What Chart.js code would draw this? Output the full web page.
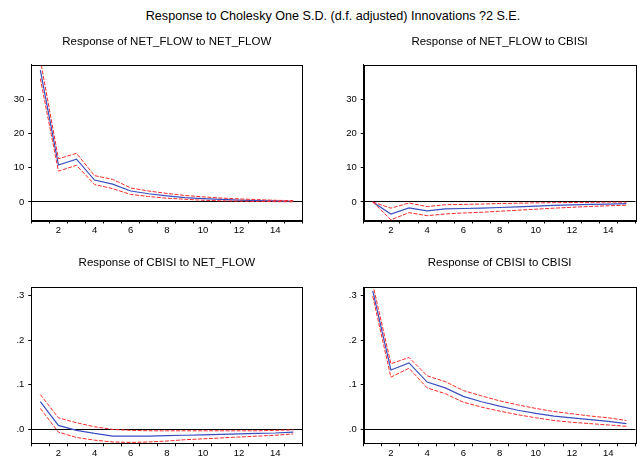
<!DOCTYPE html>
<html>
<head>
<meta charset="utf-8">
<script src="https://cdn.jsdelivr.net/npm/chart.js@4"></script>
<style>
  body { margin:0; background:#fff; width:637px; height:462px; position:relative; overflow:hidden; }
  .mainTitle { position:absolute; left:0; top:9px; width:666px; text-align:center;
    font-family:"Liberation Sans", Arial, sans-serif; font-size:12.6px; color:#000; }
  canvas { position:absolute; }
</style>
</head>
<body>
<div class="mainTitle">Response to Cholesky One S.D. (d.f. adjusted) Innovations ?2 S.E.</div>
<canvas id="c1" style="left:0;top:0" width="318" height="235"></canvas>
<canvas id="c2" style="left:318px;top:0" width="319" height="235"></canvas>
<canvas id="c3" style="left:0;top:235px" width="318" height="223"></canvas>
<canvas id="c4" style="left:318px;top:235px" width="319" height="223"></canvas>
<script>
// periods 1..15
const periods = ['1','2','3','4','5','6','7','8','9','10','11','12','13','14','15'];

// NET_FLOW to NET_FLOW
const nfNf     = [38.5, 10.8, 12.5, 6.4, 5.2, 3.2, 2.4, 1.8, 1.3, 1.0, 0.75, 0.55, 0.4, 0.3, 0.2];
const nfNfUp   = [41.5, 12.6, 14.2, 7.7, 6.6, 4.1, 3.2, 2.5, 1.9, 1.5, 1.15, 0.9, 0.7, 0.5, 0.4];
const nfNfLo   = [36.0, 9.0, 10.7, 5.1, 3.9, 2.2, 1.6, 1.1, 0.8, 0.5, 0.35, 0.25, 0.15, 0.1, 0.05];

// NET_FLOW to CBISI
const nfCb     = [0, -3.5, -1.7, -2.6, -2.0, -1.9, -1.8, -1.6, -1.4, -1.2, -1.0, -0.85, -0.7, -0.6, -0.5];
const nfCbUp   = [0, -1.8, -0.3, -1.35, -0.8, -0.7, -0.6, -0.45, -0.35, -0.25, -0.2, -0.15, -0.1, -0.05, -0.05];
const nfCbLo   = [0, -5.2, -3.1, -4.0, -3.5, -3.2, -3.0, -2.7, -2.4, -2.1, -1.8, -1.55, -1.3, -1.1, -0.95];

// CBISI to NET_FLOW
const cbNf     = [0.062, 0.009, -0.002, -0.009, -0.015, -0.015, -0.015, -0.014, -0.013, -0.012, -0.011, -0.010, -0.009, -0.008, -0.006];
const cbNfUp   = [0.078, 0.026, 0.015, 0.006, 0.0, -0.002, -0.003, -0.003, -0.003, -0.003, -0.003, -0.003, -0.003, -0.002, -0.001];
const cbNfLo   = [0.047, -0.006, -0.018, -0.024, -0.028, -0.029, -0.028, -0.026, -0.023, -0.021, -0.019, -0.017, -0.015, -0.013, -0.010];

// CBISI to CBISI
const cbCb     = [0.31, 0.133, 0.149, 0.106, 0.093, 0.074, 0.062, 0.052, 0.043, 0.036, 0.030, 0.026, 0.022, 0.018, 0.013];
const cbCbUp   = [0.325, 0.147, 0.161, 0.120, 0.107, 0.087, 0.075, 0.064, 0.055, 0.047, 0.040, 0.035, 0.030, 0.026, 0.020];
const cbCbLo   = [0.298, 0.117, 0.137, 0.093, 0.080, 0.061, 0.050, 0.041, 0.033, 0.026, 0.020, 0.016, 0.013, 0.010, 0.007];

const topTicks = [0, 10, 20, 30];
const botTicks = [0, 0.1, 0.2, 0.3];

const FONT = '"Liberation Sans", Arial, sans-serif';

/* box round the plot area */
const boxPlugin = {
  id: 'box',
  afterDraw(chart) {
    const a = chart.chartArea, ctx = chart.ctx;
    ctx.save();
    ctx.strokeStyle = '#000';
    ctx.lineWidth = 1;
    ctx.strokeRect(Math.round(a.left) + 0.5, Math.round(a.top) + 0.5,
                   Math.round(a.right - a.left), Math.round(a.bottom - a.top));
    ctx.restore();
  }
};

function makeChart(id, title, mid, up, lo, ticks, yMin, yMax, fmt, g) {
  new Chart(document.getElementById(id), {
    type: 'line',
    data: {
      labels: periods,
      datasets: [
        { data: up,  borderColor: '#ff2a2a', borderWidth: 1, borderDash: [4, 1.5], pointRadius: 0, tension: 0 },
        { data: lo,  borderColor: '#ff2a2a', borderWidth: 1, borderDash: [4, 1.5], pointRadius: 0, tension: 0 },
        { data: mid, borderColor: '#3a4ec0', borderWidth: 1.2, pointRadius: 0, tension: 0 }
      ]
    },
    options: {
      responsive: false,
      animation: false,
      layout: { padding: { left: g.padL, right: g.padR, top: 0, bottom: 0 } },
      plugins: {
        legend: { display: false },
        tooltip: { enabled: false },
        title: {
          display: true, text: title, fullSize: false, color: '#000',
          font: { family: FONT, size: 11.5, weight: 'normal', lineHeight: 1.2 },
          padding: { top: g.tTop, bottom: g.tBot }
        }
      },
      scales: {
        x: {
          offset: true,
          grid: { offset: true, drawOnChartArea: false, color: '#000', tickLength: 3 },
          border: { color: '#000' },
          ticks: {
            autoSkip: false, maxRotation: 0, padding: 1, color: '#000',
            font: { family: FONT, size: 9.5 },
            callback: (v, i) => (i % 2 === 1 ? periods[i] : '')
          },
          afterFit: s => { s.height = g.xH; }
        },
        y: {
          min: yMin, max: yMax,
          afterBuildTicks: s => { s.ticks = ticks.map(v => ({ value: v })); },
          grid: {
            color: c => (c.tick && c.tick.value === 0 ? '#000' : 'rgba(0,0,0,0)'),
            tickColor: '#000', tickLength: 3
          },
          border: { color: '#000' },
          ticks: { color: '#000', padding: 4, font: { family: FONT, size: 9.5 }, callback: fmt },
          afterFit: s => { s.width = g.yW; }
        }
      }
    },
    plugins: [boxPlugin]
  });
}

const fmtTop = v => String(v);
const fmtBot = v => '.' + Math.round(v * 10);

makeChart('c1', 'Response of NET_FLOW to NET_FLOW', nfNf, nfNfUp, nfNfLo, topTicks, -5.4, 40, fmtTop,
  { padL: 0, padR: 15.7, yW: 31.3, xH: 14.5, tTop: 35, tBot: 16.1 });
makeChart('c2', 'Response of NET_FLOW to CBISI', nfCb, nfCbUp, nfCbLo, topTicks, -5.4, 40, fmtTop,
  { padL: 0, padR: 1.5, yW: 45.7, xH: 14.5, tTop: 35, tBot: 16.1 });
makeChart('c3', 'Response of CBISI to NET_FLOW', cbNf, cbNfUp, cbNfLo, botTicks, -0.031, 0.318, fmtBot,
  { padL: 0, padR: 15.7, yW: 31.3, xH: 14.7, tTop: 21.4, tBot: 17.1 });
makeChart('c4', 'Response of CBISI to CBISI', cbCb, cbCbUp, cbCbLo, botTicks, -0.031, 0.318, fmtBot,
  { padL: 0, padR: 1.5, yW: 45.7, xH: 14.7, tTop: 21.4, tBot: 17.1 });
</script>
</body>
</html>
